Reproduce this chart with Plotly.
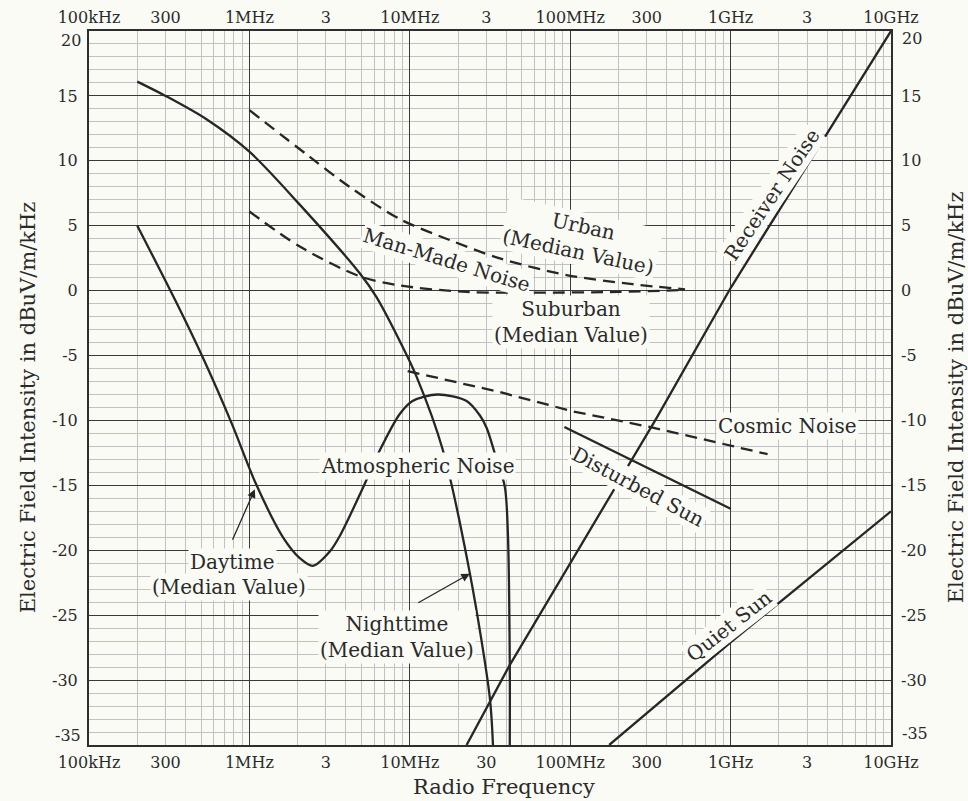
import plotly.graph_objects as go

# ---------------- data (frequency in MHz, level in dBuV/m/kHz) ----------------
night_f_mhz = [0.2, 0.3, 0.54, 1.0, 2.0, 4.9, 6.2, 9.0, 11.0, 16.0, 23.7, 31.5, 33.0]
night_db = [16.1, 15.0, 13.2, 10.7, 6.8, 1.3, -0.5, -4.3, -6.6, -12.2, -21.8, -31.3, -35.0]

day_f_mhz = [0.2, 0.35, 0.51, 0.78, 1.1, 1.62, 2.06, 2.49, 3.17, 3.66, 5.1, 6.5,
             8.66, 10.4, 14.9, 22.6, 27.3, 30.2, 33.8, 39.1, 40.8, 42.0, 42.0]
day_db = [5.0, -0.9, -5.1, -10.3, -14.9, -19.0, -20.6, -21.2, -20.1, -18.9, -15.2, -12.3,
          -9.5, -8.5, -8.0, -8.5, -9.6, -10.6, -12.5, -15.1, -18.4, -28.6, -35.0]

urban_f_mhz = [1.0, 2.38, 4.2, 8.7, 17.7, 36.0, 95.0, 245.0, 520.0]
urban_db = [13.9, 10.3, 8.0, 5.5, 3.9, 2.5, 1.2, 0.5, 0.1]

suburban_f_mhz = [1.0, 2.06, 4.88, 8.67, 22.6, 58.0, 200.0, 520.0]
suburban_db = [6.1, 3.4, 1.1, 0.4, -0.1, -0.15, -0.1, 0.05]

cosmic_f_mhz = [9.7, 36.0, 104.0, 313.0, 1700.0]
cosmic_db = [-6.2, -7.8, -9.3, -10.5, -12.6]

receiver_f_mhz = [22.6, 41.7, 346.0, 1000.0, 10000.0]
receiver_db = [-35.0, -28.9, -9.8, 0.2, 20.0]

disturbed_f_mhz = [92.0, 1000.0]
disturbed_db = [-10.5, -16.8]

quiet_f_mhz = [175.0, 1000.0, 10000.0]
quiet_db = [-35.0, -27.1, -17.0]

x_tick_hz = [1e5, 3e5, 1e6, 3e6, 1e7, 3e7, 1e8, 3e8, 1e9, 3e9, 1e10]
x_tick_bottom = ["100kHz", "300", "1MHz", "3", "10MHz", "30", "100MHz", "300", "1GHz", "3", "10GHz"]
x_tick_top = ["100kHz", "300", "1MHz", "3", "10MHz", "3", "100MHz", "300", "1GHz", "3", "10GHz"]
y_ticks = list(range(-35, 21, 5))
y_ticktext = ["-35", "-30", "-25", "-20", "-15", "-10", "-5", "0", "5", "10", "15", "20"]

# ---------------- style ----------------
INK = "#262626"
PAPER = "#fbfbf6"
FONT = "DejaVu Serif"
MAJOR = "#3a3a3a"
MINOR = "#c2c2c2"
TXT = "#2a2a2a"

fig = go.Figure()


def add_curve(f_mhz, db, dash="solid", shape="spline"):
    fig.add_trace(go.Scatter(
        x=[f * 1e6 for f in f_mhz], y=db, mode="lines",
        line=dict(color=INK, width=2.3, dash=dash, shape=shape, smoothing=0.85),
        hoverinfo="skip", showlegend=False))


add_curve(night_f_mhz, night_db)
add_curve(day_f_mhz, day_db)
add_curve(urban_f_mhz, urban_db, dash="12px,7px")
add_curve(suburban_f_mhz, suburban_db, dash="12px,7px")
add_curve(cosmic_f_mhz, cosmic_db, dash="12px,7px", shape="linear")
add_curve(receiver_f_mhz, receiver_db, shape="linear")
add_curve(disturbed_f_mhz, disturbed_db, shape="linear")
add_curve(quiet_f_mhz, quiet_db, shape="linear")

decades = [10 ** e for e in range(5, 11)]
minor_x = [m * 10 ** e for e in range(5, 10) for m in range(2, 10)]

tickfont = dict(family=FONT, size=16, color=TXT)
# end labels (20 and -35) are set slightly inside the frame, as in the original
edge_vals = (20, -35)
y_ticktext_inner = ["" if v in edge_vals else t for v, t in zip(y_ticks, y_ticktext)]

fig.update_layout(
    width=968, height=801,
    margin=dict(l=89, r=77, t=31, b=56, autoexpand=False),
    paper_bgcolor=PAPER, plot_bgcolor=PAPER,
    showlegend=False,
    xaxis=dict(type="log", range=[5, 10], tickmode="array", tickvals=x_tick_hz,
               ticktext=x_tick_bottom, tickfont=tickfont, showgrid=False,
               ticks="", ticklabelstandoff=2, automargin=False,
               showline=True, mirror=True, linecolor="#2e2e2e", linewidth=2,
               minor=dict(tickmode="array", tickvals=minor_x, showgrid=True,
                          gridcolor=MINOR, gridwidth=0.9, ticks=""),
               zeroline=False),
    xaxis2=dict(type="log", range=[5, 10], overlaying="x", side="top", matches="x",
                tickmode="array", tickvals=x_tick_hz, ticktext=x_tick_top,
                tickfont=tickfont, showgrid=False, ticks="", ticklabelstandoff=4,
                automargin=False, showline=False, zeroline=False),
    xaxis3=dict(type="log", range=[5, 10], overlaying="x", matches="x",
                tickmode="array", tickvals=decades, showticklabels=False,
                showgrid=True, gridcolor=MAJOR, gridwidth=1.4, ticks="",
                automargin=False, showline=False, zeroline=False),
    yaxis=dict(range=[-35, 20], tickmode="array", tickvals=y_ticks,
               ticktext=y_ticktext_inner,
               tickfont=tickfont, showgrid=True, gridcolor=MAJOR, gridwidth=1.4,
               ticks="", ticklabelstandoff=6, automargin=False,
               showline=True, mirror=True, linecolor="#2e2e2e", linewidth=2,
               minor=dict(dtick=1, showgrid=True, gridcolor=MINOR, gridwidth=0.9, ticks=""),
               zeroline=False),
    yaxis2=dict(range=[-35, 20], overlaying="y", side="right", matches="y",
                tickmode="array", tickvals=y_ticks, ticktext=y_ticktext_inner,
                tickfont=tickfont,
                showgrid=False, ticks="", ticklabelstandoff=9, automargin=False,
                showline=False, zeroline=False),
)

# helper traces so the secondary axes are drawn (no visible marks)
fig.add_trace(go.Scatter(x=[x_tick_hz[0], x_tick_hz[-1]], y=[None, None], xaxis="x2",
                         yaxis="y2", mode="lines", hoverinfo="skip", showlegend=False))
fig.add_trace(go.Scatter(x=[x_tick_hz[0], x_tick_hz[-1]], y=[None, None], xaxis="x3",
                         yaxis="y", mode="lines", hoverinfo="skip", showlegend=False))

# edge tick labels, nudged inside the frame
for v, t in zip(y_ticks, y_ticktext):
    if v in edge_vals:
        yy = v - 0.7 if v > 0 else v + 0.75
        fig.add_annotation(x=0, y=yy, xref="paper", yref="y", text=t, showarrow=False,
                           xanchor="right", yanchor="middle", xshift=-6, font=tickfont)
        fig.add_annotation(x=1, y=yy + 0.15, xref="paper", yref="y", text=t, showarrow=False,
                           xanchor="left", yanchor="middle", xshift=9, font=tickfont)

lab_font = dict(family=FONT, size=20, color=TXT)

# (text, log10 x, y, angle)
labels = [
    ("Urban<br>(Median Value)", 8.065, 4.0, 12),
    ("Man-Made Noise", 7.231, 2.38, 17),
    ("Suburban<br>(Median Value)", 8.003, -2.4, 0),
    ("Cosmic Noise", 9.355, -10.4, 0),
    ("Disturbed Sun", 8.427, -15.1, 28),
    ("Receiver Noise", 9.255, 7.4, -56),
    ("Quiet Sun", 8.988, -25.8, -38),
    ("Atmospheric Noise", 7.05, -13.5, 0),
    ("Daytime", 5.897, -20.9, 0),
    ("(Median Value)", 5.872, -22.85, 0),
    ("Nighttime<br>(Median Value)", 6.919, -26.7, 0),
]
for text, lx, ly, ang in labels:
    fig.add_annotation(x=lx, y=ly, xref="x", yref="y", text=text, showarrow=False,
                       textangle=ang, font=lab_font, bgcolor=PAPER, borderpad=1)

# arrows (tip in data coords, tail offset in px)
for tx, ty, ax, ay in [(6.034, -15.3, -23, 52), (7.374, -21.8, -53, 30)]:
    fig.add_annotation(x=tx, y=ty, xref="x", yref="y", text="", showarrow=True,
                       ax=ax, ay=ay, arrowhead=2, arrowsize=1.3, arrowwidth=1.3,
                       arrowcolor=INK)

title_font = dict(family=FONT, size=21, color=TXT)
ytitle = "Electric Field Intensity in dBuV/m/kHz"
fig.add_annotation(x=-0.076, y=0.473, xref="paper", yref="paper", text=ytitle,
                   textangle=-90, showarrow=False, font=title_font,
                   xanchor="center", yanchor="middle")
fig.add_annotation(x=1.081, y=0.487, xref="paper", yref="paper", text=ytitle,
                   textangle=-90, showarrow=False, font=title_font,
                   xanchor="center", yanchor="middle")
fig.add_annotation(x=0.517, y=-0.059, xref="paper", yref="paper", text="Radio Frequency",
                   showarrow=False, font=title_font, xanchor="center", yanchor="middle")

fig.write_html(
    "out.html",
    config={"displayModeBar": False},
    post_script="document.body.style.margin='0';document.body.style.padding='0';"
                "document.documentElement.style.overflow='hidden';",
)
